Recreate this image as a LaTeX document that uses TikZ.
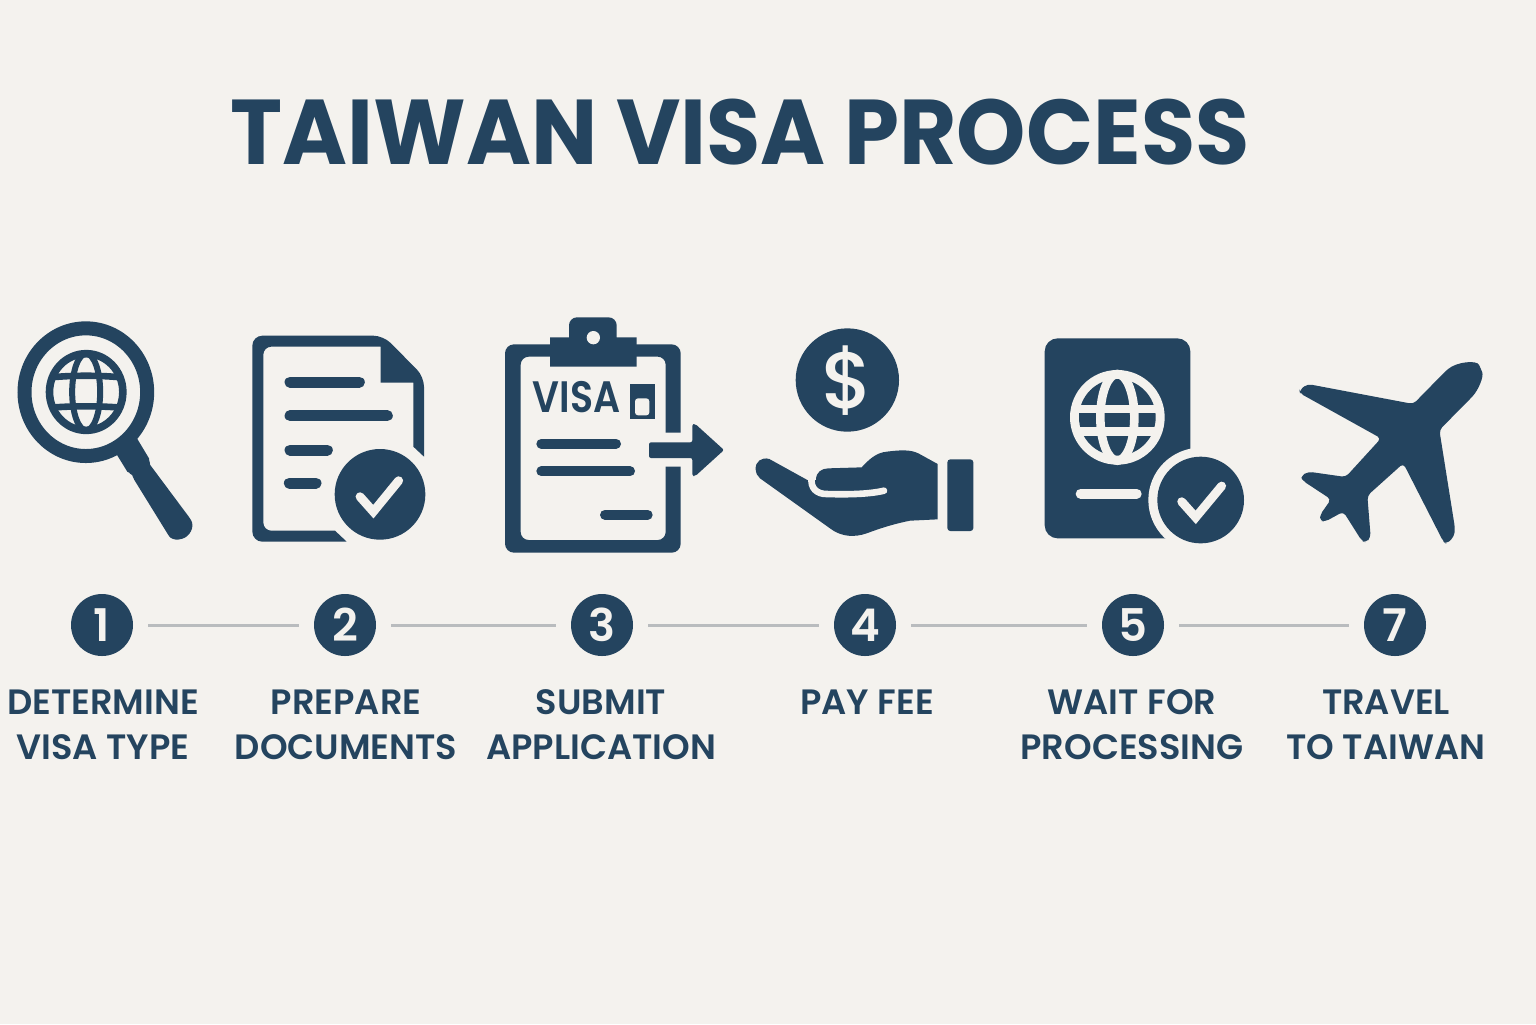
\documentclass[tikz,border=0pt]{standalone}
\usepackage{fontspec}
\setmainfont{Poppins}[BoldFont={Poppins SemiBold}]
\newfontfamily\heavyfont{Poppins Bold}
\newfontfamily\midfont{Poppins Medium}
\definecolor{navy}{HTML}{24445F}
\definecolor{paper}{HTML}{F4F2EE}
\definecolor{rule}{HTML}{B9BCBE}
\tikzset{
 z1/.style={x=0.166667pt,y=-0.166667pt,yshift=-155pt},
 z2/.style={x=0.166667pt,y=-0.166667pt,xshift=245pt,yshift=-155pt},
 z3/.style={x=0.166667pt,y=-0.166667pt,xshift=515pt,yshift=-165pt},
 ink/.style={fill=navy,draw=none},
 bar/.style={draw=navy,line cap=round},
 cut/.style={draw=paper},
 numdot/.style={circle,fill=navy,draw=none,minimum size=31pt,inner sep=0pt,text=paper,font=\bfseries\fontsize{22.5}{22.5}\selectfont},
 lbl/.style={text=navy,font=\bfseries\fontsize{17.6}{22.5}\selectfont,align=center,inner sep=0pt,anchor=center},
 link/.style={draw=rule,line width=1.5pt,shorten >=7.5pt,shorten <=7.5pt},
}
\begin{document}
\begin{tikzpicture}[x=0.5pt,y=-0.5pt]
\useasboundingbox (0,0) rectangle (1536,1024);
\fill[paper] (0,0) rectangle (1536,1024);
\node[text=navy,font=\heavyfont\fontsize{46}{46}\selectfont,inner sep=0pt,xscale=0.958] (title) at (740,132) {TAIWAN VISA PROCESS};

% magnifier
\begin{scope}[z1]
 \draw[navy,line width=7pt] (257.5,246.5) ellipse (184 and 191.5);
 \path[ink,rounded corners=1pt] (405,375) -- (450,450) -- (447,460) -- (570,625)
   .. controls (585,650) and (570,680) .. (540,688)
   .. controls (525,690) and (512,685) .. (505,675) -- (400,505) -- (395,490) -- (385,490) -- (345,425) -- cycle;
 \draw[navy,line width=3.8pt] (258.5,246) ellipse (110 and 115);
 \draw[navy,line width=3pt] (258.5,246) ellipse (42 and 115);
 \draw[navy,line width=3.3pt] (165,201) .. controls (220,196) and (296,196) .. (351,201);
 \draw[navy,line width=3.3pt] (165,292) .. controls (220,288) and (296,288) .. (351,292);
\end{scope}

% document
\begin{scope}[z1]
 \path[ink,rounded corners=5pt] (1040,695) -- (757,695) -- (757,77) -- (1150,77) -- (1272,200)
   [sharp corners] -- (1272,440) -- (1240,410) -- (1240,218) -- (1142,218) -- (1142,110)
   [rounded corners=4pt] -- (790,110) -- (790,662) [sharp corners] -- (1005,662) -- cycle;
 \draw[bar,line width=5.5pt] (870,216) -- (1078,216);
 \draw[bar,line width=5.5pt] (870,317) -- (1162,317);
 \draw[bar,line width=5.5pt] (870,420) -- (982,420);
 \draw[bar,line width=5.5pt] (868,519) -- (948,519);
 \fill[navy] (1140,553) circle (136);
 \draw[cut,line width=4.4pt,line cap=round] (1080,560) -- (1120,605) -- (1196,512);
\end{scope}

% clipboard
\begin{scope}[z2]
 \path[ink,rounded corners=4.5pt] (572,368) -- (572,103) -- (45,103) -- (45,728) -- (572,728)
   [sharp corners] -- (572,470) -- (527,470) [rounded corners=4pt] -- (527,690) -- (92,690) -- (92,140) -- (527,140) [sharp corners] -- (527,368) -- cycle;
 \path[ink,rounded corners=3.5pt] (180,170) [sharp corners] -- (180,82) -- (237,82) [rounded corners=4pt] -- (237,22) -- (380,22) [sharp corners] -- (380,82) -- (440,82) -- (440,170) -- cycle;
 \fill[paper] (310,83) circle (20);
 \node[text=navy,font=\bfseries\fontsize{22}{22}\selectfont,inner sep=0pt,xscale=0.86] (visaword) at (260,262) {VISA};
 \fill[navy] (420,222) rectangle (495,328);
 \path[fill=paper,rounded corners=1.5pt] (435,265) -- (478,265) -- (478,316) -- (435,316) -- cycle;
 \draw[bar,line width=5pt] (154,401) -- (378,401);
 \draw[bar,line width=5pt] (154,484) -- (420,484);
 \draw[bar,line width=5pt] (345,614) -- (473,614);
 \path[ink,rounded corners=1pt] (477,397) -- (607,397) -- (607,342) -- (616,342) -- (702,420) -- (616,498) -- (607,498) -- (607,444) -- (477,444) -- cycle;
 % coin
 \fill[navy] (1072,210) circle (155);
 \node[text=paper,font=\midfont\fontsize{40}{40}\selectfont,inner sep=0pt] (dollar) at (1072,213) {\$};
 % hand
 \path[ink] (797,478) .. controls (795,455) and (815,440) .. (838,447) -- (952,510) -- (978,510)
   .. controls (978,485) and (995,476) .. (1015,475) -- (1115,472)
   .. controls (1140,445) and (1160,428) .. (1190,425) .. controls (1230,420) and (1260,418) .. (1285,430) -- (1343,462) -- (1343,628) -- (1260,632)
   .. controls (1210,642) and (1170,655) .. (1130,670) .. controls (1095,682) and (1055,682) .. (1020,655)
   -- (810,505) .. controls (802,498) and (798,490) .. (797,478) -- cycle;
 \draw[cut,line width=3.3pt,line cap=round] (965,500) .. controls (960,535) and (980,552) .. (1010,552) .. controls (1080,554) and (1140,552) .. (1182,542);
 \fill[navy,rounded corners=1.5pt] (1372,448) rectangle (1450,663);
\end{scope}

% passport
\begin{scope}[z3]
 \fill[navy,rounded corners=6.5pt] (44,25) rectangle (481,625);
 \fill[paper] (262,262) circle (142);
 \fill[navy] (262,262) circle (115);
 \draw[cut,line width=4.3pt] (262,262) ellipse (51 and 130);
 \fill[paper] (135,225) rectangle (389,250);
 \fill[paper] (135,292) rectangle (389,318);
 \draw[cut,line width=5pt,line cap=round] (152,491) -- (320,491);
 \fill[paper] (512,510) circle (157);
 \fill[navy] (512,510) circle (130);
 \draw[cut,line width=4.4pt,line cap=round] (455,515) -- (497,562) -- (575,468);
 % plane
 \path[ink,rounded corners=2pt] (1150,222) -- (1245,125)
   .. controls (1280,95) and (1340,90) .. (1352,115)
   .. controls (1362,140) and (1345,180) .. (1320,207)
   -- (1228,300) -- (1275,595) -- (1272,620) -- (1250,642) -- (1240,635) -- (1120,400) -- (1012,497) -- (1022,622) -- (1008,638) -- (995,632) -- (940,545) -- (885,575) -- (870,572) -- (870,555) -- (903,508) -- (818,452) -- (812,438) -- (835,425) -- (947,441) -- (1053,325) -- (810,190) -- (808,180) -- (833,162) -- cycle;
\end{scope}

% steps
\node[numdot] (n1) at (102,625) {1};
\node[numdot] (n2) at (345,625) {2};
\node[numdot] (n3) at (602,625) {3};
\node[numdot] (n4) at (865,625) {4};
\node[numdot] (n5) at (1133,625) {5};
\node[numdot] (n7) at (1395,625) {7};
\draw[link] (n1) -- (n2);
\draw[link] (n2) -- (n3);
\draw[link] (n3) -- (n4);
\draw[link] (n4) -- (n5);
\draw[link] (n5) -- (n7);
\node[lbl] (l1) at (103,725) {DETERMINE\\VISA TYPE};
\node[lbl] (l2) at (346,725) {PREPARE\\DOCUMENTS};
\node[lbl] (l3) at (601,725) {SUBMIT\\APPLICATION};
\node[lbl] (l4) at (867,702) {PAY FEE};
\node[lbl] (l5) at (1132,725) {WAIT FOR\\PROCESSING};
\node[lbl] (l7) at (1386,725) {TRAVEL\\TO TAIWAN};
\end{tikzpicture}
\end{document}
